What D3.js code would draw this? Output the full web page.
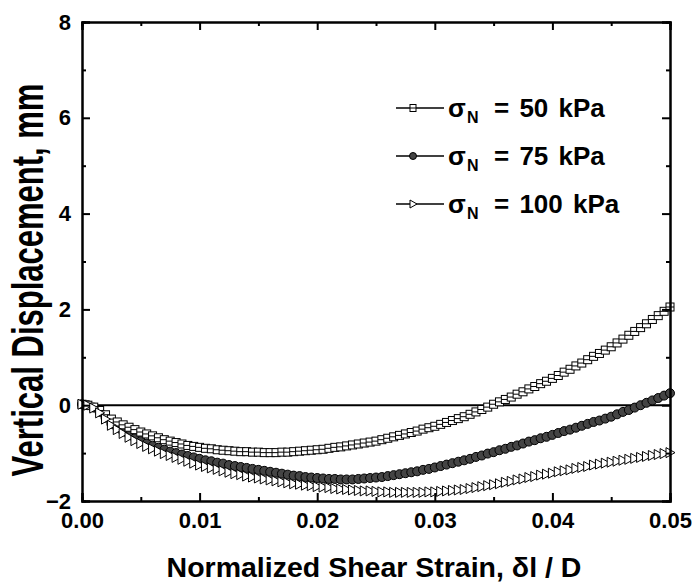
<!DOCTYPE html>
<html>
<head>
<meta charset="utf-8">
<script src="https://cdnjs.cloudflare.com/ajax/libs/d3/7.8.5/d3.min.js"></script>
<style>
  body { margin: 0; background: #fff; }
  svg text { font-family: "Liberation Sans", Arial, sans-serif; font-weight: bold; fill: #000; }
</style>
</head>
<body>
<div id="chart"></div>
<script>
// normalized shear strain, sampled every 0.0005
var strain = d3.range(101).map(function(i){ return +(i * 0.0005).toFixed(4); });

// vertical displacement (mm)
var disp50 = [0.02, 0.0, -0.04, -0.11, -0.2, -0.29, -0.35, -0.41, -0.46, -0.51,
  -0.56, -0.6, -0.64, -0.68, -0.72, -0.75, -0.78, -0.81, -0.84, -0.86,
  -0.88, -0.9, -0.91, -0.93, -0.94, -0.95, -0.96, -0.97, -0.97, -0.98,
  -0.98, -0.99, -0.99, -0.99, -0.98, -0.98, -0.97, -0.96, -0.95, -0.94,
  -0.93, -0.92, -0.9, -0.88, -0.87, -0.85, -0.83, -0.81, -0.79, -0.77,
  -0.75, -0.72, -0.69, -0.66, -0.63, -0.6, -0.57, -0.54, -0.5, -0.47,
  -0.44, -0.4, -0.36, -0.32, -0.28, -0.24, -0.19, -0.14, -0.09, -0.04,
  0.02, 0.07, 0.12, 0.17, 0.23, 0.28, 0.34, 0.39, 0.45, 0.5,
  0.56, 0.62, 0.69, 0.75, 0.82, 0.88, 0.95, 1.02, 1.08, 1.15,
  1.22, 1.3, 1.38, 1.46, 1.54, 1.62, 1.7, 1.79, 1.87, 1.96, 2.05];

var disp75 = [0.02, 0.0, -0.05, -0.14, -0.26, -0.39, -0.47, -0.55, -0.62, -0.69,
  -0.75, -0.8, -0.85, -0.89, -0.93, -0.97, -1.0, -1.03, -1.06, -1.09,
  -1.12, -1.15, -1.17, -1.2, -1.22, -1.25, -1.27, -1.29, -1.31, -1.33,
  -1.35, -1.37, -1.39, -1.41, -1.43, -1.45, -1.47, -1.48, -1.5, -1.51,
  -1.52, -1.53, -1.54, -1.54, -1.55, -1.55, -1.55, -1.54, -1.53, -1.52,
  -1.51, -1.5, -1.48, -1.46, -1.44, -1.42, -1.4, -1.38, -1.35, -1.33,
  -1.3, -1.27, -1.24, -1.21, -1.18, -1.15, -1.12, -1.08, -1.05, -1.01,
  -0.98, -0.94, -0.91, -0.87, -0.84, -0.8, -0.76, -0.73, -0.69, -0.66,
  -0.62, -0.58, -0.54, -0.51, -0.47, -0.43, -0.39, -0.35, -0.32, -0.28,
  -0.24, -0.19, -0.14, -0.1, -0.05, 0.0, 0.05, 0.1, 0.15, 0.2, 0.25];

var disp100 = [0.02, 0.0, -0.06, -0.16, -0.29, -0.42, -0.51, -0.59, -0.67, -0.74,
  -0.8, -0.86, -0.91, -0.96, -1.01, -1.05, -1.09, -1.13, -1.17, -1.21,
  -1.25, -1.28, -1.31, -1.34, -1.37, -1.4, -1.43, -1.45, -1.48, -1.5,
  -1.52, -1.54, -1.56, -1.58, -1.6, -1.62, -1.64, -1.65, -1.67, -1.68,
  -1.7, -1.71, -1.72, -1.74, -1.75, -1.76, -1.77, -1.78, -1.79, -1.79,
  -1.8, -1.81, -1.81, -1.82, -1.82, -1.82, -1.82, -1.82, -1.82, -1.81,
  -1.81, -1.8, -1.79, -1.78, -1.77, -1.76, -1.74, -1.72, -1.7, -1.68,
  -1.66, -1.64, -1.61, -1.59, -1.56, -1.54, -1.51, -1.49, -1.46, -1.44,
  -1.42, -1.39, -1.37, -1.35, -1.32, -1.3, -1.28, -1.25, -1.23, -1.21,
  -1.19, -1.17, -1.15, -1.13, -1.11, -1.09, -1.07, -1.05, -1.03, -1.01, -0.99];

var seriesNames = ["50 kPa", "75 kPa", "100 kPa"];
var xTicks = [0, 0.01, 0.02, 0.03, 0.04, 0.05];
var xMinor = [0.005, 0.015, 0.025, 0.035, 0.045];
var yTicks = [-2, 0, 2, 4, 6, 8];
var yMinor = [-1, 1, 3, 5, 7];

var w = 697, h = 588;
var plotL = 82, plotR = 670, plotT = 22, plotB = 501;

var svg = d3.select("#chart").append("svg").attr("width", w).attr("height", h);

var x = d3.scaleLinear().domain([0, 0.05]).range([plotL, plotR]);
var y = d3.scaleLinear().domain([-2, 8]).range([plotB, plotT]);

// zero reference line
svg.append("line")
   .attr("x1", x(0)).attr("x2", x(0.05))
   .attr("y1", y(0)).attr("y2", y(0))
   .attr("stroke", "#000").attr("stroke-width", 2);

// markers
function drawSquares(data) {
  var m = svg.append("g").selectAll("g").data(data).enter().append("g")
    .attr("transform", function(d){ return "translate(" + x(d[0]) + "," + y(d[1]) + ")"; });
  m.append("rect").attr("x", -4).attr("y", -4).attr("width", 8).attr("height", 8)
    .attr("fill", "#fff").attr("stroke", "#000").attr("stroke-width", 1);
  m.append("line").attr("x1", -4).attr("x2", 4).attr("y1", 0).attr("y2", 0)
    .attr("stroke", "#000").attr("stroke-width", 1);
}
function drawCircles(data) {
  svg.append("g").selectAll("circle").data(data).enter().append("circle")
    .attr("cx", function(d){ return x(d[0]); })
    .attr("cy", function(d){ return y(d[1]); })
    .attr("r", 4.5)
    .attr("fill", "#444").attr("stroke", "#000").attr("stroke-width", 1);
}
function drawTriangles(data) {
  svg.append("g").selectAll("path").data(data).enter().append("path")
    .attr("d", "M-4,-5L5,0L-4,5Z")
    .attr("transform", function(d){ return "translate(" + x(d[0]) + "," + y(d[1]) + ")"; })
    .attr("fill", "#fff").attr("stroke", "#000").attr("stroke-width", 1);
}

var pairs = function(vals){ return strain.map(function(s, i){ return [s, vals[i]]; }); };
drawCircles(pairs(disp75));
drawSquares(pairs(disp50));
drawTriangles(pairs(disp100));

// axes, ticks inside
var fmtX = d3.format(".2f");
svg.append("g").attr("transform", "translate(0," + plotB + ")")
   .call(d3.axisBottom(x).tickValues(xTicks).tickSize(-8).tickPadding(11).tickFormat(fmtX));
svg.append("g").attr("transform", "translate(0," + plotB + ")")
   .call(d3.axisBottom(x).tickValues(xMinor).tickSize(-4).tickFormat(""));
svg.append("g").attr("transform", "translate(0," + plotT + ")")
   .call(d3.axisTop(x).tickValues(xTicks).tickSize(-8).tickFormat(""));
svg.append("g").attr("transform", "translate(0," + plotT + ")")
   .call(d3.axisTop(x).tickValues(xMinor).tickSize(-4).tickFormat(""));

svg.append("g").attr("transform", "translate(" + plotL + ",0)")
   .call(d3.axisLeft(y).tickValues(yTicks).tickSize(-8).tickPadding(11).tickFormat(d3.format("d")));
svg.append("g").attr("transform", "translate(" + plotL + ",0)")
   .call(d3.axisLeft(y).tickValues(yMinor).tickSize(-4).tickFormat(""));
svg.append("g").attr("transform", "translate(" + plotR + ",0)")
   .call(d3.axisRight(y).tickValues(yTicks).tickSize(-8).tickFormat(""));
svg.append("g").attr("transform", "translate(" + plotR + ",0)")
   .call(d3.axisRight(y).tickValues(yMinor).tickSize(-4).tickFormat(""));

svg.selectAll(".domain").attr("stroke", "#000").attr("stroke-width", 2);
svg.selectAll(".tick line").attr("stroke", "#000").attr("stroke-width", 2);
svg.selectAll(".tick text").attr("font-size", 22)
   .attr("font-family", "'Liberation Sans', Arial, sans-serif").attr("font-weight", "bold");

// axis titles
svg.append("text")
   .attr("x", 374).attr("y", 577)
   .attr("text-anchor", "middle").attr("font-size", 28.5)
   .text("Normalized Shear Strain, \u03b4l / D");

svg.append("text")
   .attr("transform", "translate(43,280) rotate(-90) scale(1,1.45)")
   .attr("text-anchor", "middle").attr("font-size", 31)
   .text("Vertical Displacement, mm");

// legend
var legendY = [108, 156, 204];
var lg = svg.append("g");
seriesNames.forEach(function(name, i){
  var ly = legendY[i];
  lg.append("line").attr("x1", 396).attr("x2", 444).attr("y1", ly).attr("y2", ly)
    .attr("stroke", "#000").attr("stroke-width", 1.5);
  var mk = lg.append("g").attr("transform", "translate(413," + ly + ")");
  if (i === 0) {
    mk.append("rect").attr("x", -3).attr("y", -3.5).attr("width", 6).attr("height", 7)
      .attr("fill", "#fff").attr("stroke", "#000").attr("stroke-width", 1);
    mk.append("line").attr("x1", -3).attr("x2", 3).attr("y1", 0).attr("y2", 0)
      .attr("stroke", "#000").attr("stroke-width", 1);
  } else if (i === 1) {
    mk.append("circle").attr("r", 3.5).attr("fill", "#444").attr("stroke", "#000");
  } else {
    mk.append("path").attr("d", "M-3,-4L4,0L-3,4Z").attr("fill", "#fff")
      .attr("stroke", "#000").attr("stroke-width", 1);
  }
  lg.append("text").attr("x", 448).attr("y", ly + 9).attr("font-size", 26).text("\u03c3");
  lg.append("text").attr("x", 467).attr("y", ly + 15).attr("font-size", 16).text("N");
  lg.append("text").attr("x", 494).attr("y", ly + 9).attr("font-size", 26)
    .attr("word-spacing", 3).text("= " + name);
});
</script>
</body>
</html>
